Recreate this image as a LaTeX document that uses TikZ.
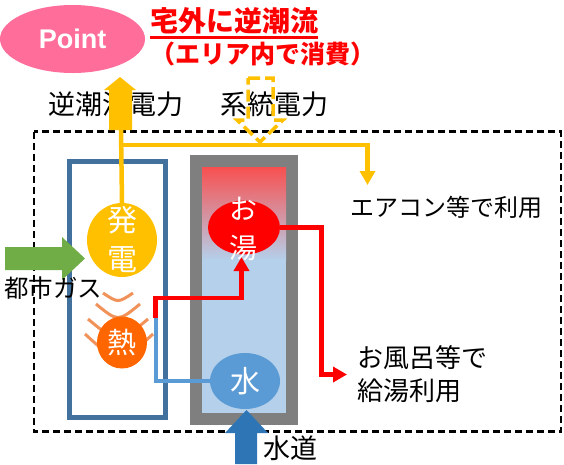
\documentclass[tikz,border=0pt]{standalone}
\usepackage{fontspec}
\usetikzlibrary{shapes.geometric,arrows.meta}
\newfontfamily\jp{Noto Sans CJK JP}
\newfontfamily\ptfont{Liberation Sans}
\definecolor{pinkc}{HTML}{FF6E9B}
\definecolor{yel}{HTML}{FFC000}
\definecolor{grn}{HTML}{70AD47}
\definecolor{boxblue}{HTML}{41719C}
\definecolor{tankgray}{HTML}{7F7F7F}
\definecolor{tankred}{HTML}{F85050}
\definecolor{tankblue}{HTML}{B4D0EB}
\definecolor{heatc}{HTML}{FF6600}
\definecolor{arcc}{HTML}{F0925A}
\definecolor{waterc}{HTML}{5B9BD5}
\definecolor{tapc}{HTML}{2E75B6}
\begin{document}
\begin{tikzpicture}[x=1pt,y=-1pt,
  lbl/.style={inner sep=0pt, anchor=west, text=black},
  blob/.style={ellipse, inner sep=0pt},
  wtext/.style={inner sep=0pt, text=white, align=center},
  ypipe/.style={draw=yel, line width=4.5pt},
  rpipe/.style={draw=red, line width=4.5pt},
  bpipe/.style={draw=waterc, line width=4pt},
  tip/.style={-{Triangle[width=15pt,length=14pt]}},
  heatarc/.style={draw=arcc, line width=3pt},
  ]
\useasboundingbox (0,0) rectangle (564,464);

% Point bubble and red headline
\node[blob, fill=pinkc, minimum width=145pt, minimum height=68pt] (point) at (72.5,39) {};
\node[wtext, font=\ptfont\bfseries\fontsize{27}{32}\selectfont] (pointtxt) at (point) {Point};
\node[lbl, text=red, font=\jp\bfseries\fontsize{28}{32}\selectfont] (head1) at (150,21) {宅外に逆潮流};
\draw[red, line width=2.5pt] ([yshift=-3pt]head1.south west) -- ([yshift=-3pt]head1.south east);
\node[lbl, text=red, font=\jp\bfseries\fontsize{25}{30}\selectfont] (head2) at (150,54) {（エリア内で消費）};

% top labels
\node[lbl, font=\jp\fontsize{27}{32}\selectfont] (revlbl) at (48,104) {逆潮流電力};
\node[lbl, font=\jp\fontsize{27}{32}\selectfont] (gridlbl) at (220,104) {系統電力};

% dashed area
\draw[black, line width=2.5pt, dash pattern=on 7pt off 4pt] (34,131.5) rectangle (561,431.5);

% fuel cell unit box
\draw[boxblue, line width=5pt] (69.5,161.5) rectangle (165.5,417.5);

% tank
\fill[tankgray] (190,155) rectangle (298,425);
\fill[tankblue] (202,167) rectangle (286,413);
\shade[top color=tankred, bottom color=tankblue] (202,167) rectangle (286,260);

% nodes inside
\node[blob, fill=yel, minimum width=70pt, minimum height=74pt] (gen) at (122,240) {};
\node[wtext, font=\jp\fontsize{30}{39}\selectfont] (gentxt) at (gen) {発\\電};

% yellow power lines
\coordinate (upbase) at (121,130);
\coordinate (junc) at (121,145);
\coordinate (acturn) at (367.5,145);
\coordinate (actip) at (367.5,185);
\draw[ypipe] (gen.north) -- (upbase);
\draw[ypipe, tip] (junc) -- (acturn) -- (actip);
\node[lbl, font=\jp\fontsize{24}{30}\selectfont] (aircon) at (350,207) {エアコン等で利用};

% reverse power block arrow
\fill[yel] (109,130) -- (109,90) -- (104,90) -- (120,77) -- (136,90) -- (132,90) -- (132,130) -- cycle;

% grid power dashed arrow
\draw[yel, line width=3.5pt, dash pattern=on 12pt off 5pt, line join=miter]
  (248,78) -- (273,78) -- (273,120) -- (283,120) -- (260,142) -- (237,120) -- (248,120) -- cycle;

% heat
\draw[heatarc] (103,293) .. controls (118,303) .. (133,293);
\draw[heatarc] (96,304) .. controls (118,322) .. (140,304);
\draw[heatarc] (88,319) .. controls (118,344) .. (148,319);
\draw[heatarc] (85,334) .. controls (119,365) .. (153,334);
\node[blob, fill=heatc, minimum width=50pt, minimum height=52pt] (heat) at (122,342.5) {};
\node[wtext, font=\jp\fontsize{29}{34}\selectfont] (heattxt) at (heat) {熱};

% tank bubbles
\node[blob, fill=red, minimum width=72pt, minimum height=54pt] (hot) at (244,227.5) {};
\node[blob, fill=waterc, minimum width=70pt, minimum height=56pt] (water) at (245,381) {};

% pipes
\coordinate (bp1) at (155.5,381);
\coordinate (bp2) at (155.5,318);
\coordinate (rp1) at (155.5,298);
\coordinate (rp2) at (241.5,298);
\coordinate (rtip) at (241.5,257);
\draw[bpipe] (water.west) -- (bp1) -- (bp2);
\draw[rpipe, tip, line join=miter] (bp2) -- (rp1) -- (rp2) -- (rtip);
\coordinate (hp1) at (321.5,227.5);
\coordinate (hp2) at (321.5,374.5);
\coordinate (htip) at (347,374.5);
\draw[rpipe, tip, line join=miter] (hot.east) -- (hp1) -- (hp2) -- (htip);

\node[wtext, font=\jp\fontsize{28}{39}\selectfont] (hottxt) at (243,229) {お\\湯};
\node[wtext, font=\jp\fontsize{30}{36}\selectfont] (watertxt) at (water) {水};

\node[lbl, align=left, font=\jp\fontsize{26}{33}\selectfont] (bath) at (357,374.5) {お風呂等で\\給湯利用};

% gas arrow
\fill[grn] (5,247) -- (62,247) -- (62,237) -- (85,258.5) -- (62,280) -- (62,270) -- (5,270) -- cycle;
\node[lbl, font=\jp\fontsize{24.5}{30}\selectfont] (gas) at (4,288) {都市ガス};

% tap water arrow
\fill[tapc] (235,464) -- (235,433) -- (225,433) -- (246.5,410) -- (268,433) -- (257,433) -- (257,464) -- cycle;
\node[lbl, font=\jp\fontsize{27}{32}\selectfont] (tap) at (263,448) {水道};
\end{tikzpicture}
\end{document}
